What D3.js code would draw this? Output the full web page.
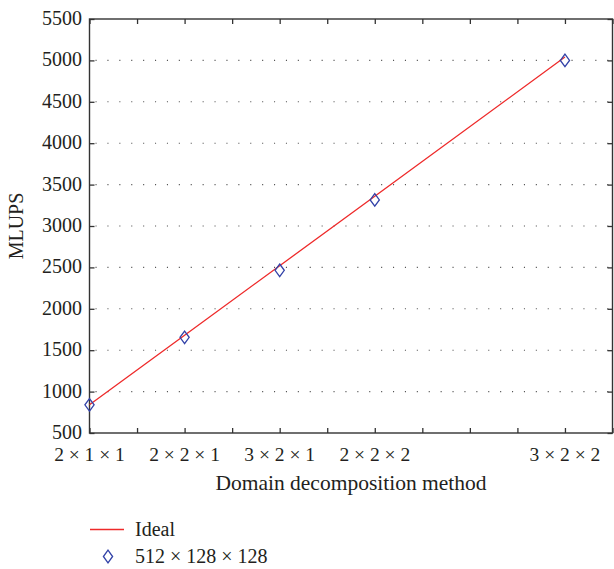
<!DOCTYPE html>
<html>
<head>
<meta charset="utf-8">
<script src="https://cdn.jsdelivr.net/npm/d3@7"></script>
<style>
html,body{margin:0;padding:0;background:#fff;}
svg{display:block;}
text{font-family:"Liberation Serif","Times New Roman",serif;fill:#231f20;}
</style>
</head>
<body>
<svg id="chart" width="614" height="569" font-family="Liberation Serif"></svg>
<script>
const categories = ["2 × 1 × 1","2 × 2 × 1","3 × 2 × 1","2 × 2 × 2","3 × 2 × 2"];
const gpuCounts = [2,4,6,8,12];
const measured = [840,1655,2465,3315,5000];
const ideal = [840,1680,2520,3360,5040];
const yTicks = [500,1000,1500,2000,2500,3000,3500,4000,4500,5000,5500];
const xMinorTicks = [2,3,4,5,6,7,8,9,10,11,12,13];
const seriesNames = ["Ideal","512 × 128 × 128"];

const svg = d3.select("#chart");
const L = 89.5, R = 612.5, T = 19, B = 433;
const x = d3.scaleLinear().domain([2,13]).range([L,R]);
const y = d3.scaleLinear().domain([500,5500]).range([B,T]);
const axisColor = "#333";

// grid
svg.append("g").selectAll("line").data(yTicks.slice(1,-1)).join("line")
  .attr("x1",L).attr("x2",R).attr("y1",d=>y(d)).attr("y2",d=>y(d))
  .attr("stroke","#555").attr("stroke-width",1.1)
  .attr("stroke-dasharray","1.1,10.8").attr("stroke-dashoffset",-6);

// axes
const ax = svg.append("g");
ax.append("g").attr("transform",`translate(0,${B})`)
  .call(d3.axisBottom(x).tickValues(xMinorTicks).tickSize(-5).tickFormat(""))
  .call(g=>g.select(".domain").remove());
ax.append("g").attr("transform",`translate(0,${T})`)
  .call(d3.axisTop(x).tickValues(xMinorTicks).tickSize(-5).tickFormat(""))
  .call(g=>g.select(".domain").remove());
ax.append("g").attr("transform",`translate(${L},0)`)
  .call(d3.axisLeft(y).tickValues(yTicks).tickSize(-5).tickFormat(""))
  .call(g=>g.select(".domain").remove());
ax.append("g").attr("transform",`translate(${R},0)`)
  .call(d3.axisRight(y).tickValues(yTicks).tickSize(-5).tickFormat(""))
  .call(g=>g.select(".domain").remove());
ax.selectAll(".tick line").attr("stroke",axisColor).attr("stroke-width",1.3);
ax.append("rect").attr("x",L).attr("y",T).attr("width",R-L).attr("height",B-T)
  .attr("fill","none").attr("stroke",axisColor).attr("stroke-width",1.4);

// tick labels
svg.append("g").selectAll("text").data(yTicks).join("text")
  .attr("x",82).attr("y",d=>y(d)).attr("dy","0.3em")
  .attr("text-anchor","end").attr("font-size",20).text(d=>d);
svg.append("g").selectAll("text").data(categories).join("text")
  .attr("x",(d,i)=>x(gpuCounts[i])).attr("y",461)
  .attr("text-anchor","middle").attr("font-size",19.5).text(d=>d);

// axis titles
svg.append("text").attr("x",(L+R)/2).attr("y",490).attr("text-anchor","middle")
  .attr("font-size",21.5).text("Domain decomposition method");
svg.append("text").attr("transform",`translate(23,${(T+B)/2}) rotate(-90)`)
  .attr("text-anchor","middle").attr("font-size",20).text("MLUPS");

// ideal line
const line = d3.line().x((d,i)=>x(gpuCounts[i])).y(d=>y(d));
svg.append("path").datum(ideal).attr("d",line).attr("fill","none")
  .attr("stroke","#ee2a2a").attr("stroke-width",1.3);

// diamonds
const diamond = (cx,cy)=>`M${cx},${cy-6.3}L${cx+4.6},${cy}L${cx},${cy+6.3}L${cx-4.6},${cy}Z`;
svg.append("g").selectAll("path").data(measured).join("path")
  .attr("d",(d,i)=>diamond(x(gpuCounts[i]),y(d)))
  .attr("fill","none").attr("stroke","#3242a8").attr("stroke-width",1.3);

// legend
const lg = svg.append("g");
lg.append("line").attr("x1",90).attr("x2",124).attr("y1",529.5).attr("y2",529.5)
  .attr("stroke","#ee2a2a").attr("stroke-width",1.3);
lg.append("text").attr("x",135).attr("y",536).attr("font-size",20).text(seriesNames[0]);
lg.append("path").attr("d",diamond(108,556.5)).attr("fill","none")
  .attr("stroke","#3242a8").attr("stroke-width",1.3);
lg.append("text").attr("x",135).attr("y",563).attr("font-size",20).text(seriesNames[1]);
</script>
</body>
</html>
